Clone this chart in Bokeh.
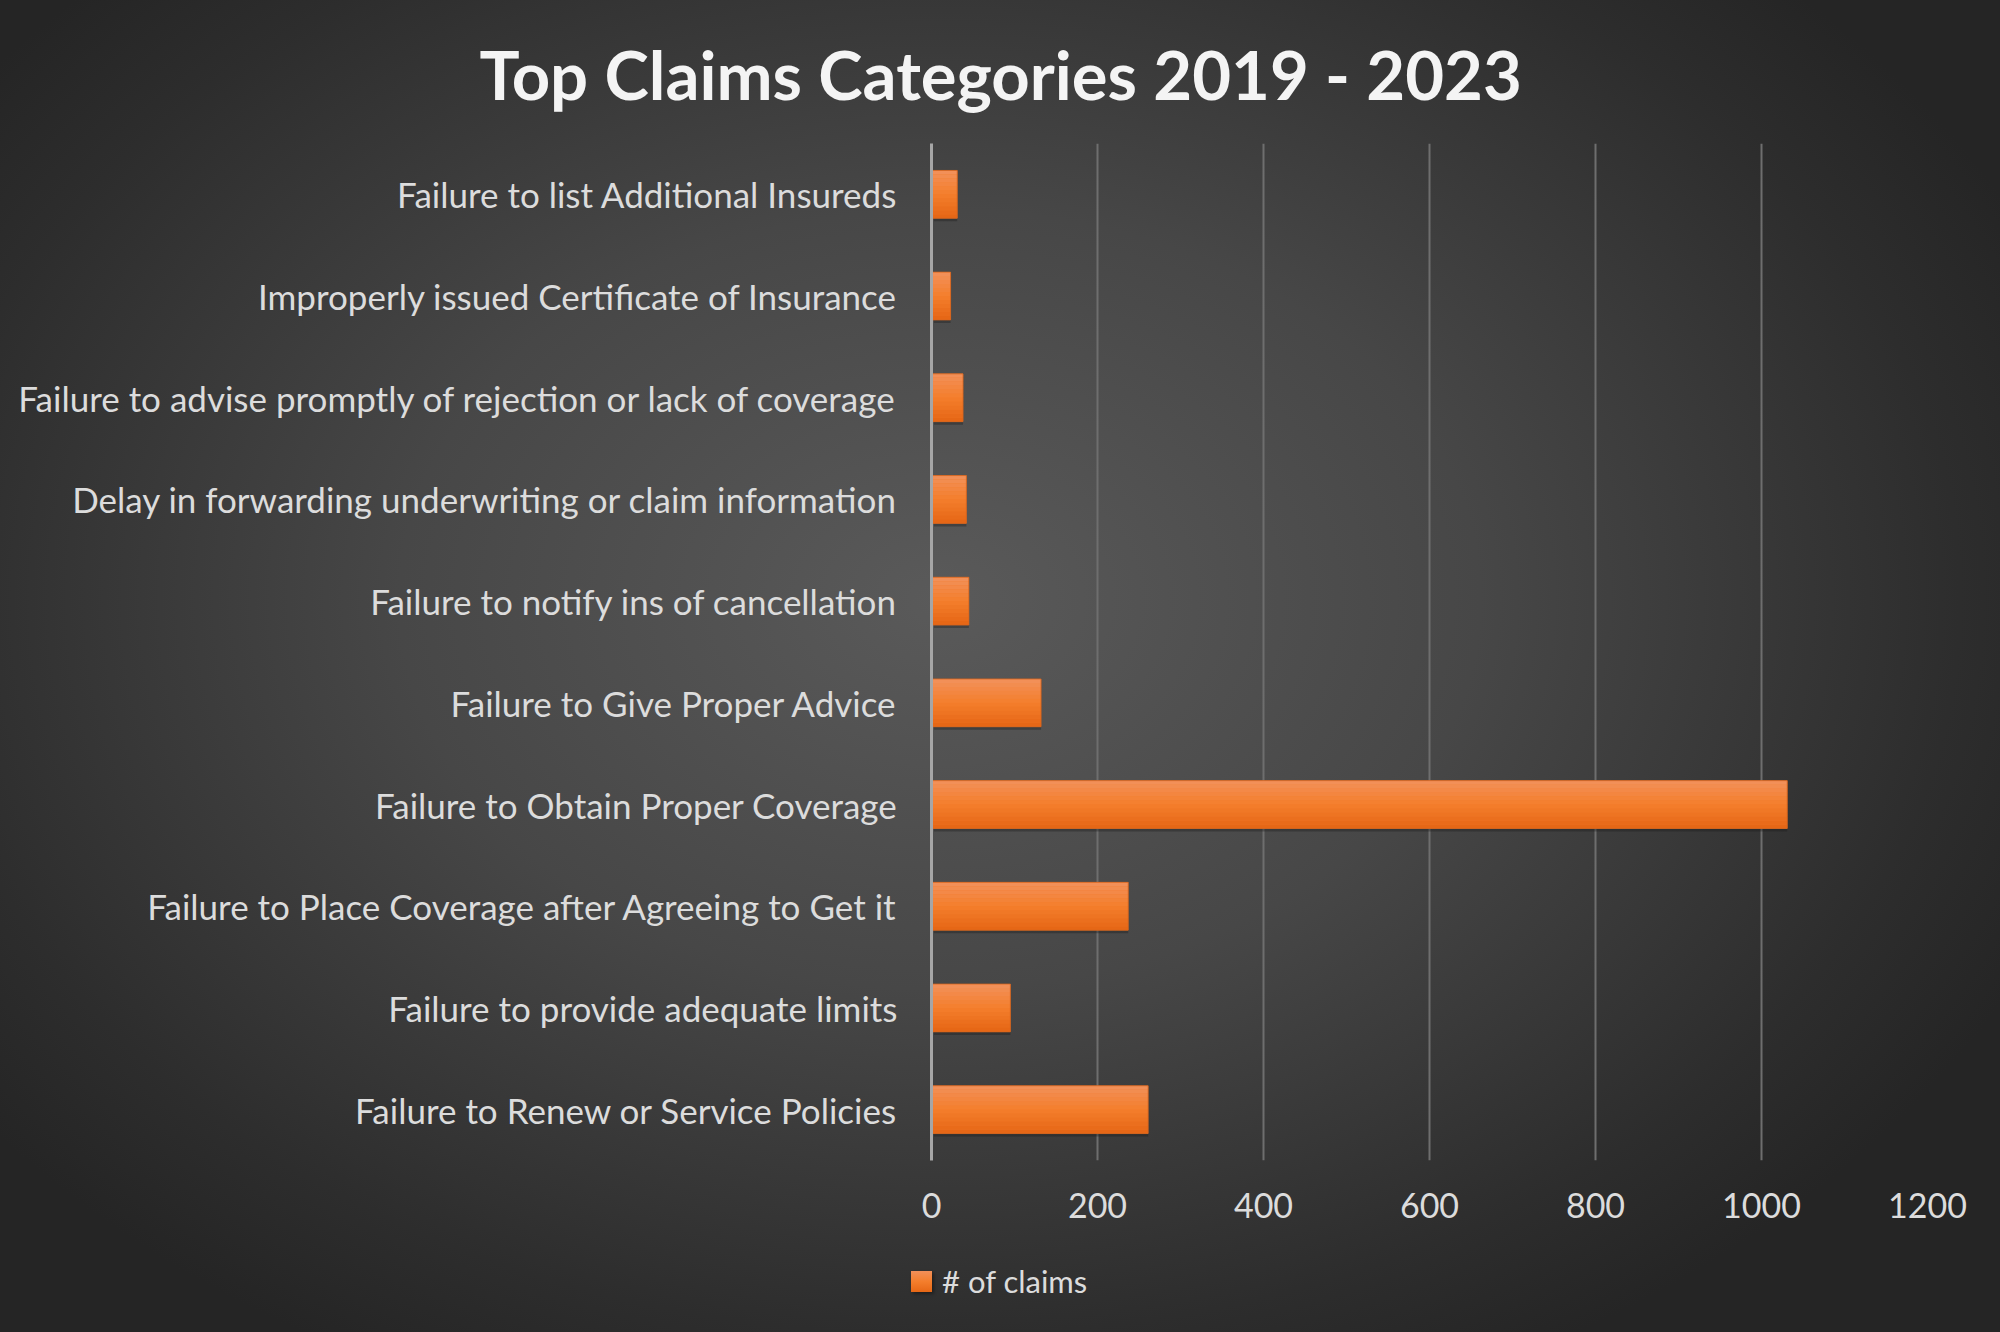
from bokeh.plotting import figure
from bokeh.layouts import column
from bokeh.models import FactorRange, Range1d, FixedTicker, Title, Div
from bokeh.transform import dodge
from bokeh.embed import file_html
from bokeh.resources import INLINE

categories = [
    "Failure to list Additional Insureds",
    "Improperly issued Certificate of Insurance",
    "Failure to advise promptly of rejection or lack of coverage",
    "Delay in forwarding underwriting or claim information",
    "Failure to notify ins of cancellation",
    "Failure to Give Proper Advice",
    "Failure to Obtain Proper Coverage",
    "Failure to Place Coverage after Agreeing to Get it",
    "Failure to provide adequate limits",
    "Failure to Renew or Service Policies",
]
claims = [31, 23, 38, 42, 45, 132, 1031, 237, 95, 261]
x_ticks = [0, 200, 400, 600, 800, 1000, 1200]
series_name = "# of claims"
title_text = "Top Claims Categories 2019 - 2023"

factors = list(reversed(categories))

FONT = "Lato"
TXT = "#dcdcdc"
BAR_H = 0.47
MAIN_H = 1250
LEG_H = 1332 - MAIN_H

p = figure(
    width=2000, height=MAIN_H,
    y_range=FactorRange(*factors, range_padding=0.0),
    x_range=Range1d(0, 1200),
    output_backend="svg", toolbar_location=None,
    min_border_left=931, min_border_right=73,
    min_border_top=143, min_border_bottom=MAIN_H - 143 - 1017,
    frame_width=996, frame_height=1017,
)
p.border_fill_color = None
p.background_fill_color = None
p.outline_line_color = None

src = dict(cat=categories, val=claims)

# drop shadow
p.hbar(y=dodge("cat", -0.03, range=p.y_range), right="val", left=3, height=BAR_H,
       source=src, fill_color="#1a1a1a", fill_alpha=0.35, line_color=None)
p.hbar(y="cat", right="val", left=0, height=BAR_H, source=src,
       fill_color="#f17a2a", line_color=None)

# vertical gradient made of thin bands (top light -> bottom darker)
top_c = (0xf2, 0x90, 0x58)
mid_c = (0xf4, 0x7e, 0x2c)
bot_c = (0xe6, 0x67, 0x16)
n = 12
band_h = BAR_H / n
for i in range(n):
    t = i / (n - 1)
    if t < 0.5:
        a, b, f = top_c, mid_c, t / 0.5
    else:
        a, b, f = mid_c, bot_c, (t - 0.5) / 0.5
    col = "#%02x%02x%02x" % tuple(int(round(a[k] + (b[k] - a[k]) * f)) for k in range(3))
    off = BAR_H / 2 - band_h * (i + 0.5)
    p.hbar(y=dodge("cat", off, range=p.y_range), right="val", left=0,
           height=band_h * 1.02, source=src, fill_color=col, line_color=None)
p.hbar(y="cat", right="val", left=0, height=BAR_H, source=src,
       fill_color=None, line_color="#d8651e", line_width=1, line_alpha=0.8)

xa = p.xaxis[0]
xa.ticker = FixedTicker(ticks=x_ticks)
xa.axis_line_color = None
xa.major_tick_line_color = None
xa.minor_tick_line_color = None
xa.major_label_text_font = FONT
xa.major_label_text_font_size = "34px"
xa.major_label_text_color = TXT
xa.major_label_standoff = 26

ya = p.yaxis[0]
ya.axis_line_color = "#a6a6a6"
ya.axis_line_width = 3
ya.major_tick_line_color = None
ya.minor_tick_line_color = None
ya.major_label_text_font = FONT
ya.major_label_text_font_size = "35px"
ya.major_label_text_color = TXT
ya.major_label_standoff = 28

p.xgrid.grid_line_color = "#6e6e6e"
p.xgrid.grid_line_width = 2
p.ygrid.grid_line_color = None

t = Title(text=title_text, align="left", offset=-452,
          text_font=FONT, text_font_size="67px", text_font_style="bold",
          text_color="#f4f4f4", standoff=60)
p.add_layout(t, "above")

legend_html = (
    '<div style="display:flex;align-items:center;height:62px;padding-left:911px;'
    'font-family:Lato, sans-serif;font-size:31px;color:%s;white-space:nowrap;">'
    '<span style="display:inline-block;width:21px;height:21px;margin-right:10px;'
    'background:linear-gradient(#f2905a,#f47e2c,#e66716);'
    'box-shadow:2px 2px 3px rgba(0,0,0,0.35);"></span>%s</div>'
) % (TXT, series_name)
legend_div = Div(text=legend_html, width=2000, height=LEG_H, margin=0)

layout = column(p, legend_div, spacing=0, width=2000, height=1332,
                styles={"background": "radial-gradient(ellipse 60% 65% at 47% 45%, #5a5a5a 0%, #474747 45%, #2d2d2d 85%, #252525 100%)"})

open("out.html", "w").write(file_html(layout, INLINE))
